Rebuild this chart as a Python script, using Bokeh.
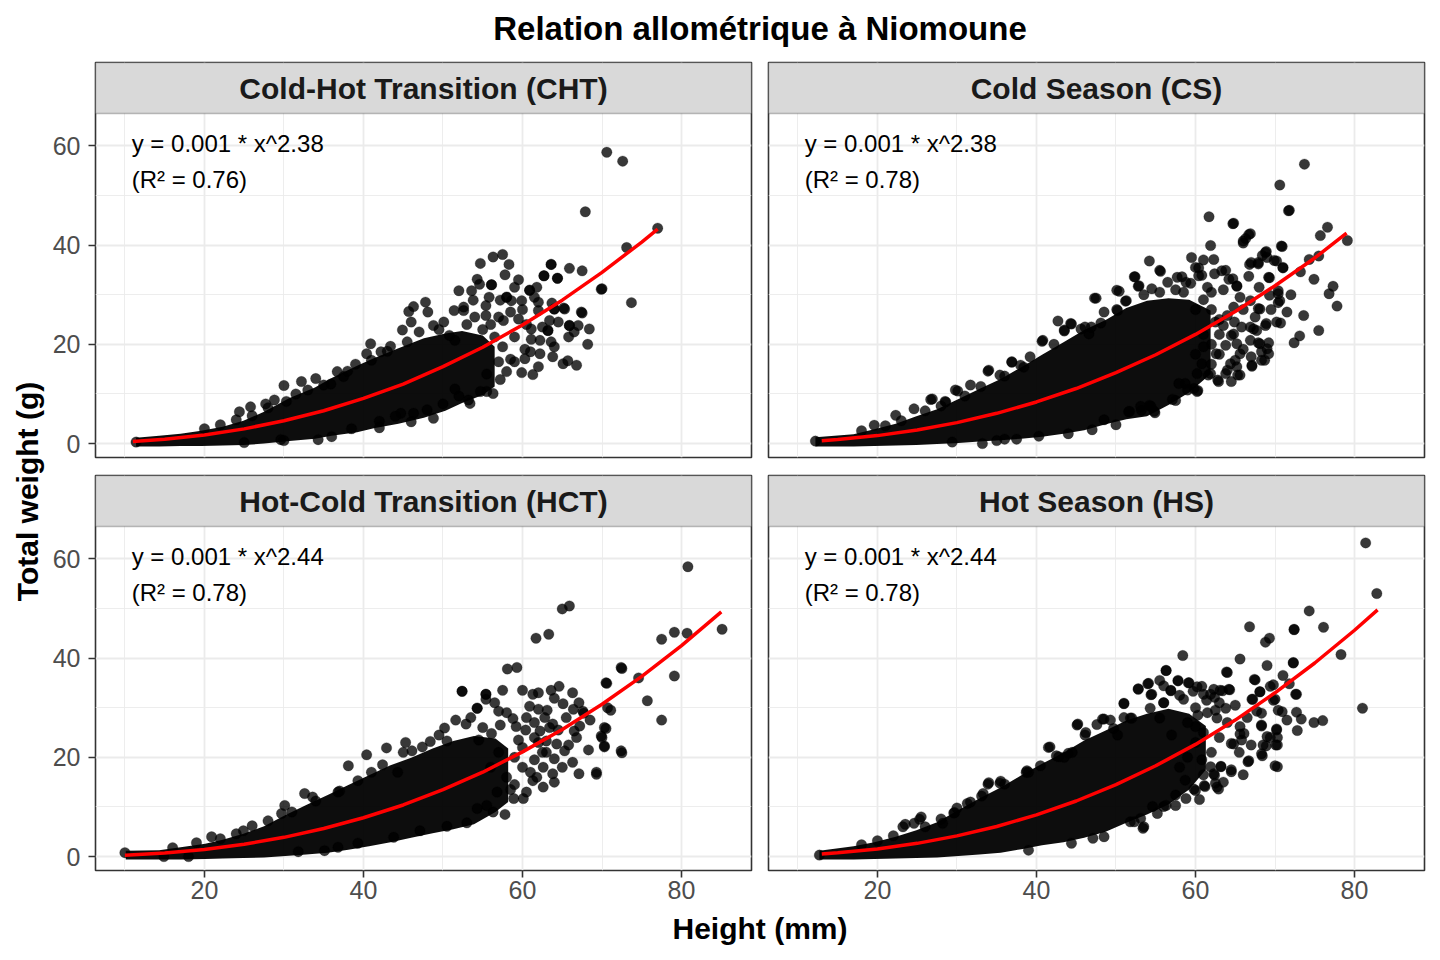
from bokeh.plotting import figure
from bokeh.models import Range1d, FixedTicker, BoxAnnotation, Label
from bokeh.layouts import row, column
from bokeh.embed import file_html
from bokeh.resources import INLINE

FONT = "Liberation Sans"
TITLE = "Relation allométrique à Niomoune"
X_LABEL = "Height (mm)"
Y_LABEL = "Total weight (g)"

panel_names = ["Cold-Hot Transition (CHT)", "Cold Season (CS)",
               "Hot-Cold Transition (HCT)", "Hot Season (HS)"]
eq_text = ["y = 0.001 * x^2.38", "y = 0.001 * x^2.38",
           "y = 0.001 * x^2.44", "y = 0.001 * x^2.44"]
r2_text = ["(R² = 0.76)", "(R² = 0.78)", "(R² = 0.78)", "(R² = 0.78)"]

X_TICKS = [20, 40, 60, 80]
X_MINOR = [10, 30, 50, 70]
Y_TICKS = [0, 20, 40, 60]
Y_MINOR = [10, 30, 50]
X_RANGE = (6.3, 88.8)
Y_RANGE = (-2.8, 66.5)

# ---- fitted curves ----
cht_curve_x = [11, 15, 20, 25, 30, 35, 40, 45, 50, 55, 60, 65, 70, 75, 77]
cht_curve_y = [0.42, 0.88, 1.75, 2.97, 4.59, 6.62, 9.10, 12.0, 15.5, 19.4, 23.9, 28.9, 34.5, 40.6, 43.2]
cs_curve_x = [13, 15, 20, 25, 30, 35, 40, 45, 50, 55, 60, 65, 70, 75, 79]
cs_curve_y = [0.58, 0.81, 1.61, 2.74, 4.23, 6.10, 8.39, 11.1, 14.3, 17.9, 22.0, 26.6, 31.8, 37.4, 42.4]
hct_curve_x = [10, 15, 20, 25, 30, 35, 40, 45, 50, 55, 60, 65, 70, 75, 80, 85]
hct_curve_y = [0.27, 0.72, 1.44, 2.49, 3.88, 5.66, 7.83, 10.4, 13.5, 17.0, 21.1, 25.6, 30.7, 36.3, 42.5, 49.3]
hs_curve_x = [13, 15, 20, 25, 30, 35, 40, 45, 50, 55, 60, 65, 70, 75, 80, 82.9]
hs_curve_y = [0.54, 0.77, 1.55, 2.67, 4.17, 6.07, 8.41, 11.2, 14.5, 18.3, 22.6, 27.5, 33.0, 39.0, 45.6, 49.7]

# ---- dense cores of the point clouds (visual lower / upper envelope) ----
cht_core_x = [11.4, 14.3, 17.0, 19.6, 22.3, 24.9, 27.5, 30.7, 33.9, 36.0, 39.2, 41.3, 44.4, 47.6, 50.3, 52.4, 55.0, 56.5]
cht_core_lo = [-0.6, -0.6, -0.5, -0.5, -0.4, -0.3, 0.0, 0.5, 1.0, 1.6, 2.3, 3.1, 4.0, 5.2, 6.6, 8.2, 9.8, 11.5]
cht_core_hi = [1.2, 1.6, 2.0, 2.6, 3.4, 4.6, 6.4, 9.2, 11.3, 13.2, 15.7, 17.2, 19.2, 21.2, 22.2, 22.7, 21.8, 19.5]

cs_core_x = [12.2, 17.0, 19.6, 22.3, 24.9, 27.5, 30.2, 32.8, 35.5, 38.1, 40.7, 43.4, 46.0, 48.7, 51.3, 53.9, 56.6, 59.2, 61.9]
cs_core_lo = [-0.6, -0.6, -0.5, -0.4, -0.3, -0.1, 0.1, 0.4, 0.7, 1.0, 1.4, 2.0, 2.7, 3.9, 4.9, 5.5, 7.8, 10.3, 14.0]
cs_core_hi = [1.3, 1.9, 2.9, 4.0, 5.5, 6.9, 9.0, 11.0, 13.0, 15.4, 17.9, 20.4, 22.9, 24.9, 27.3, 28.8, 29.3, 29.0, 26.8]

hct_core_x = [10.1, 14.3, 17.0, 20.1, 22.3, 24.9, 27.5, 30.2, 32.8, 35.5, 38.1, 40.7, 43.4, 46.0, 48.7, 51.3, 53.9, 56.6, 58.2]
hct_core_lo = [-0.6, -0.6, -0.6, -0.5, -0.4, -0.3, -0.2, 0.1, 0.4, 0.8, 1.4, 2.1, 2.9, 3.8, 4.7, 5.5, 6.5, 9.0, 11.0]
hct_core_hi = [1.2, 1.3, 1.9, 2.6, 3.4, 4.6, 6.1, 8.4, 10.4, 12.4, 14.4, 16.4, 18.4, 19.9, 21.8, 23.3, 24.3, 23.8, 21.8]

hs_core_x = [12.7, 17.0, 19.6, 22.3, 24.9, 27.5, 30.2, 32.8, 35.5, 38.1, 40.7, 43.4, 46.0, 48.7, 51.3, 53.9, 56.6, 59.2, 61.3]
hs_core_lo = [-0.6, -0.6, -0.5, -0.4, -0.3, -0.2, 0.1, 0.4, 0.8, 1.5, 2.3, 2.9, 3.8, 5.0, 6.8, 8.5, 10.5, 13.5, 17.5]
hs_core_hi = [1.2, 2.1, 2.9, 4.0, 5.3, 6.9, 9.4, 11.7, 13.9, 16.4, 18.7, 20.9, 23.4, 25.4, 27.4, 28.8, 29.8, 28.8, 26.3]

# ---- individual points outside the dense cores (height mm, weight g) ----
cht_pts = [
    (11.4, 0.3), (70.6, 58.7), (72.6, 56.9), (67.9, 46.7), (77.0, 43.4), (73.1, 39.5), (73.7, 28.4), (70.0, 31.2),
    (57.5, 38.1), (56.3, 37.6), (54.7, 36.3), (58.3, 36.1), (63.6, 36.1), (65.9, 35.3), (67.5, 34.8), (62.7, 33.8),
    (64.4, 33.3), (54.3, 33.1), (54.6, 32.1), (56.1, 32.0), (52.0, 30.8), (53.6, 30.8), (60.9, 30.9), (58.0, 29.5),
    (58.6, 28.8), (59.9, 28.8), (62.0, 28.5), (63.7, 28.3), (65.2, 27.3), (67.5, 26.3), (64.0, 27.1), (55.4, 27.8),
    (52.6, 27.5), (51.4, 26.8), (53.8, 28.9), (46.3, 27.6), (45.7, 26.6), (47.8, 28.5), (48.1, 26.5), (57.2, 28.9),
    (57.6, 24.8), (59.5, 25.1), (63.4, 24.8), (65.9, 23.8), (67.0, 23.8), (68.4, 23.1), (65.8, 21.5), (68.2, 20.0),
    (61.1, 23.1), (63.2, 22.8), (62.2, 20.8), (63.6, 20.5), (64.0, 19.5), (62.2, 18.1), (63.8, 17.5), (60.3, 17.1),
    (65.1, 16.1), (65.7, 16.7), (66.8, 15.8), (59.9, 14.3), (61.3, 13.9), (57.2, 12.9), (56.3, 10.1), (55.5, 10.5),
    (54.7, 10.5), (53.2, 8.8), (52.0, 9.6), (53.4, 8.1), (48.8, 5.1), (48.0, 6.8), (46.3, 6.1), (44.7, 6.1),
    (34.3, 0.8), (29.6, 0.8), (30.0, 11.7), (32.2, 12.5), (34.0, 13.1), (27.7, 8.0), (28.8, 8.8), (30.3, 8.5),
    (36.7, 14.5), (35.9, 12.0), (39.0, 16.0), (40.4, 18.1), (40.9, 20.1), (42.2, 18.5), (43.4, 19.6), (44.9, 22.9),
    (48.8, 23.8), (50.1, 24.5), (51.5, 20.8), (52.6, 26.8), (54.0, 25.5), (55.4, 25.8), (56.1, 32.0), (58.0, 29.5),
    (60.9, 30.9), (62.0, 26.8), (62.7, 33.8), (63.6, 36.1), (64.4, 33.3), (69.9, 31.1), (64.0, 27.1), (65.3, 27.1),
    (67.4, 26.5), (65.9, 23.8), (63.2, 22.8), (61.1, 21.0), (60.3, 19.0), (24.4, 6.4), (25.8, 7.4), (33.0, 10.8),
    (37.5, 13.5), (41.0, 16.8), (45.5, 20.5), (47.0, 22.5), (49.5, 23.0), (53.0, 24.0), (55.0, 23.0), (56.5, 21.5),
    (57.5, 19.5), (58.5, 17.0), (58.0, 14.5), (57.0, 16.5), (59.0, 21.5), (56.0, 24.0), (50.8, 21.8), (46.0, 24.5),
    (42.0, 4.5), (38.5, 3.0), (44.0, 5.5), (50.0, 8.0), (51.5, 11.0), (55.5, 14.0), (20.0, 3.0), (22.0, 3.8),
    (24.0, 4.8), (26.0, 5.6), (28.0, 7.2), (25.0, 0.2), (30.0, 0.6), (36.0, 1.4), (42.0, 3.2), (46.0, 4.4),
    (31.5, 10.0), (35.0, 11.8), (38.0, 14.6), (43.0, 18.6), (58.5, 26.5), (60.0, 27.0), (61.5, 29.5), (59.0, 31.5),
    (60.5, 24.0), (62.5, 23.5), (64.5, 24.5), (66.5, 22.5), (61.0, 18.5), (59.0, 16.5), (62.0, 15.5), (57.0, 25.5),
    (55.8, 29.5), (57.8, 34.0), (59.5, 33.0), (61.8, 31.5),
]
cs_pts = [
    (12.2, 0.5), (73.7, 56.3), (70.6, 52.1), (71.8, 47.0), (61.7, 45.7), (64.8, 44.4), (76.6, 43.6), (75.7, 41.9),
    (79.1, 40.9), (66.9, 42.3), (66.3, 41.3), (66.0, 40.4), (61.9, 39.9), (70.9, 39.7), (68.9, 38.7), (68.4, 37.9),
    (67.9, 36.2), (66.8, 36.1), (69.9, 36.9), (71.0, 35.4), (74.3, 37.1), (75.5, 37.8), (73.2, 34.6), (74.9, 33.1),
    (77.3, 31.7), (76.8, 30.2), (77.8, 27.7), (73.6, 25.8), (70.7, 24.3), (75.5, 22.8), (73.1, 21.7), (72.4, 20.3),
    (70.4, 28.4), (70.4, 30.2), (69.3, 29.9), (68.0, 31.5), (69.3, 33.4), (66.7, 33.7), (65.2, 31.7), (67.9, 27.2),
    (68.9, 24.2), (67.9, 20.3), (69.2, 20.3), (68.3, 18.5), (68.7, 16.8), (67.1, 15.6), (64.9, 24.5), (65.8, 23.5),
    (67.7, 22.8), (64.5, 21.8), (63.8, 19.8), (65.0, 16.8), (64.0, 14.8), (65.3, 13.8), (62.8, 12.8), (61.6, 13.8),
    (60.8, 16.1), (62.6, 18.1), (60.3, 10.7), (58.7, 12.1), (57.5, 8.7), (54.2, 7.7), (54.9, 6.2), (53.2, 6.7),
    (51.6, 6.4), (48.5, 4.8), (40.3, 1.5), (33.2, 0.0), (29.4, 0.3), (54.2, 36.8), (55.5, 34.9), (52.4, 33.6),
    (58.3, 33.6), (59.4, 32.3), (60.4, 35.4), (62.4, 34.2), (63.8, 34.9), (64.7, 33.2), (60.8, 33.9), (52.8, 31.7),
    (54.5, 31.2), (50.1, 30.9), (51.2, 28.7), (50.1, 27.0), (47.3, 29.3), (42.7, 24.7), (44.3, 24.2), (43.5, 22.7),
    (40.7, 20.6), (42.2, 20.0), (46.1, 23.5), (46.6, 22.1), (36.9, 16.4), (33.9, 14.6), (38.4, 15.4), (30.1, 10.6),
    (26.7, 8.9), (28.6, 8.4), (24.6, 7.0), (22.3, 5.7), (19.6, 3.7), (26.9, 9.0), (28.5, 8.5), (29.8, 10.8),
    (31.7, 11.8), (34.0, 14.8), (35.4, 13.8), (36.9, 16.5), (39.2, 17.5), (40.8, 20.8), (43.5, 22.9), (44.4, 24.1),
    (45.6, 23.1), (46.9, 23.5), (48.1, 24.3), (47.5, 29.3), (50.2, 26.8), (50.4, 30.7), (51.3, 28.8), (52.3, 33.6),
    (52.9, 31.8), (55.6, 34.7), (57.7, 33.5), (58.8, 32.5), (60.0, 35.5), (60.4, 33.8), (62.3, 37.1), (63.3, 34.8),
    (64.2, 33.1), (64.7, 44.3), (65.2, 31.8), (66.0, 40.8), (66.7, 42.1), (67.0, 36.5), (67.9, 36.5), (68.8, 38.5),
    (69.0, 37.5), (69.2, 33.5), (70.2, 36.8), (70.8, 39.8), (71.0, 35.5), (71.7, 46.9), (70.4, 30.8), (70.6, 28.8),
    (70.2, 24.5), (68.1, 27.1), (66.9, 28.8), (65.6, 29.5), (64.8, 27.5), (64.0, 25.8), (63.5, 23.8), (64.8, 22.1),
    (65.2, 20.1), (66.9, 20.8), (68.1, 20.1), (69.0, 19.1), (69.2, 18.1), (68.3, 16.8), (67.3, 23.1), (68.8, 23.8),
    (66.9, 23.5), (65.6, 18.1), (64.4, 16.1), (63.8, 14.1), (62.9, 12.5), (65.2, 15.5), (67.1, 15.8), (65.6, 13.8),
    (61.9, 14.1), (60.2, 14.1), (59.8, 11.1), (60.2, 10.5), (59.0, 10.8), (57.9, 12.1), (57.1, 8.9), (54.8, 6.5),
    (54.4, 7.5), (53.1, 7.5), (51.7, 6.5), (37.5, 0.9), (36.0, 0.9), (60.0, 18.0), (61.0, 22.0), (62.0, 20.0),
    (63.0, 25.0), (60.0, 27.0), (61.0, 29.0), (62.0, 16.0), (63.0, 22.0), (62.0, 27.0), (61.5, 31.5), (57.5, 31.0),
    (55.5, 30.5), (53.5, 30.0), (48.5, 26.5), (62.5, 24.5), (18.0, 2.6), (21.0, 3.6), (23.0, 4.6), (26.0, 6.6),
    (28.0, 7.6), (31.0, 9.6), (33.0, 11.5), (36.0, 13.6), (38.0, 15.8), (35.0, 0.6), (44.0, 2.0), (47.0, 2.8),
    (50.0, 3.8), (62.0, 30.5), (63.5, 31.0), (66.0, 27.0), (67.5, 25.5), (69.5, 27.0), (66.0, 19.0), (67.0, 17.5),
    (63.0, 18.0), (61.0, 19.5), (64.5, 12.5), (58.5, 30.5), (56.5, 32.5), (59.5, 37.5), (61.0, 37.0), (72.0, 30.0),
    (71.5, 26.5),
]
hct_pts = [
    (10.0, 0.8), (80.8, 58.4), (65.0, 49.9), (65.9, 50.5), (61.7, 44.0), (63.3, 44.8), (85.1, 45.8), (77.5, 43.8),
    (79.1, 45.2), (80.7, 45.0), (79.1, 36.4), (72.5, 37.9), (74.6, 36.0), (70.6, 34.9), (75.7, 31.4), (77.5, 27.5),
    (71.1, 29.5), (70.5, 25.8), (70.0, 24.0), (70.3, 22.1), (72.5, 20.9), (69.3, 16.6), (58.1, 37.8), (59.3, 38.1),
    (52.4, 33.3), (55.4, 32.7), (55.4, 31.7), (54.3, 29.9), (57.0, 29.3), (58.0, 29.0), (58.8, 27.8), (60.4, 25.5),
    (61.3, 32.7), (62.0, 33.0), (60.9, 30.3), (62.0, 29.7), (63.1, 29.5), (63.6, 33.5), (64.6, 34.3), (64.0, 31.9),
    (65.1, 30.8), (66.3, 33.0), (67.1, 31.0), (66.4, 29.7), (67.6, 29.3), (62.8, 28.0), (63.8, 26.7), (63.4, 26.0),
    (62.2, 25.3), (61.5, 24.0), (63.0, 23.3), (64.3, 22.7), (65.3, 21.3), (66.5, 25.3), (67.2, 26.3), (66.8, 24.0),
    (66.3, 19.0), (64.0, 19.7), (62.6, 18.0), (63.8, 16.7), (64.0, 15.0), (65.0, 18.0), (67.1, 16.7), (69.3, 17.0),
    (69.9, 24.3), (70.3, 26.0), (70.3, 22.3), (70.5, 35.0), (70.7, 30.0), (72.4, 38.1), (72.4, 21.3), (61.3, 15.3),
    (62.6, 14.0), (60.1, 11.7), (58.9, 11.7), (57.8, 8.5), (56.3, 9.0), (55.5, 10.3), (54.3, 9.7), (53.0, 6.8),
    (50.5, 6.1), (47.1, 5.2), (43.8, 3.9), (39.3, 2.7), (36.8, 1.9), (35.1, 1.2), (31.8, 1.0), (32.6, 12.7),
    (30.1, 10.3), (29.7, 8.7), (33.6, 12.0), (36.8, 13.0), (38.1, 18.3), (39.3, 15.3), (40.4, 20.5), (42.9, 21.9),
    (42.4, 18.5), (44.3, 17.0), (45.3, 23.0), (46.1, 21.3), (47.4, 22.1), (48.4, 23.2), (50.2, 25.9), (50.5, 23.3),
    (51.6, 27.5), (52.4, 33.3), (52.9, 26.7), (54.3, 29.9), (55.4, 32.7), (24.9, 5.2), (20.9, 4.0), (18.0, 0.0),
    (14.9, 0.0), (56.1, 24.8), (57.2, 26.5), (54.5, 23.5), (59.2, 26.2), (67.7, 28.9), (59.0, 20.0), (60.0, 18.0),
    (61.0, 17.0), (60.0, 22.0), (62.0, 23.0), (58.0, 16.0), (61.5, 19.5), (63.0, 21.0), (56.0, 18.0), (57.0, 21.0),
    (59.5, 23.5), (58.5, 13.5), (60.5, 13.0), (55.0, 26.0), (53.5, 28.0), (49.5, 24.5), (45.0, 21.0), (41.0, 17.0),
    (16.0, 1.8), (19.0, 2.8), (22.0, 3.6), (24.0, 4.6), (26.0, 6.2), (28.0, 7.2), (31.0, 9.0), (34.0, 11.2),
    (37.0, 13.2), (60.5, 28.0), (61.5, 27.0), (64.5, 25.5), (65.5, 28.0), (68.5, 27.5), (60.0, 33.5), (57.5, 33.5),
    (56.5, 31.0), (62.5, 21.0), (65.8, 22.5), (61.8, 16.0), (59.0, 14.5), (56.8, 13.0), (68.3, 21.5),
]
hs_pts = [
    (12.7, 0.3), (81.4, 63.2), (82.8, 53.0), (74.3, 49.5), (66.8, 46.3), (72.4, 45.8), (76.1, 46.2), (69.3, 44.0),
    (68.8, 43.2), (78.3, 40.7), (58.4, 40.5), (65.6, 39.8), (72.3, 39.1), (81.0, 29.9), (64.0, 37.1), (56.3, 37.5),
    (67.5, 35.6), (71.8, 34.8), (72.6, 32.7), (69.8, 34.6), (68.1, 33.2), (67.2, 31.7), (69.8, 31.5), (68.3, 28.9),
    (70.9, 29.2), (72.7, 29.1), (73.3, 27.7), (74.9, 27.0), (76.0, 27.4), (72.8, 25.4), (68.3, 26.3), (70.2, 25.5),
    (69.0, 24.2), (70.3, 24.0), (68.9, 22.3), (70.3, 22.5), (68.4, 20.3), (66.6, 19.1), (70.3, 18.1), (66.1, 24.8),
    (65.8, 23.5), (64.5, 22.8), (63.2, 18.1), (64.5, 17.1), (62.4, 16.4), (62.5, 14.8), (62.9, 13.6), (61.2, 14.1),
    (59.8, 13.6), (58.7, 15.4), (60.8, 19.5), (61.9, 18.1), (57.5, 12.4), (56.0, 10.1), (54.6, 10.1), (53.4, 5.7),
    (51.8, 7.0), (48.5, 4.0), (47.1, 3.7), (52.8, 33.7), (54.1, 34.9), (56.0, 34.4), (57.8, 35.4), (59.1, 35.0),
    (60.2, 34.2), (62.3, 33.7), (63.4, 33.4), (64.3, 33.6), (54.4, 32.6), (56.9, 33.4), (51.0, 30.9), (56.0, 31.0),
    (58.5, 31.7), (61.0, 32.7), (61.4, 31.5), (62.4, 32.1), (63.8, 29.9), (54.3, 29.9), (51.8, 27.9), (51.0, 28.0),
    (55.5, 27.9), (60.3, 28.5), (62.7, 27.9), (65.6, 26.2), (60.0, 26.2), (45.1, 26.5), (47.6, 26.6), (48.5, 27.7),
    (49.7, 25.8), (46.1, 24.5), (50.2, 24.5), (41.5, 22.0), (42.8, 20.1), (44.0, 20.8), (40.5, 18.3), (38.7, 17.0),
    (33.9, 14.6), (35.4, 14.8), (33.1, 12.2), (31.3, 10.7), (29.7, 8.9), (28.2, 6.7), (25.3, 7.5), (24.6, 6.7),
    (23.2, 6.0), (53.1, 7.7), (25.5, 8.0), (23.5, 6.5), (29.6, 8.8), (31.7, 11.0), (33.3, 12.7), (34.0, 14.9),
    (35.5, 15.2), (38.8, 17.3), (41.7, 22.1), (42.5, 20.3), (43.5, 20.0), (44.5, 21.0), (45.2, 26.7), (46.2, 25.0),
    (48.3, 27.7), (49.3, 27.5), (51.0, 30.8), (52.0, 27.9), (52.8, 33.8), (54.0, 34.8), (54.5, 32.7), (56.0, 31.0),
    (56.3, 37.5), (56.9, 33.5), (57.8, 35.5), (59.2, 35.0), (59.7, 33.3), (60.8, 34.3), (61.9, 32.7), (63.1, 33.5),
    (64.2, 33.7), (63.9, 37.2), (67.4, 35.7), (67.1, 31.7), (68.1, 33.2), (69.4, 34.3), (70.0, 31.7), (67.7, 29.3),
    (70.4, 29.5), (72.3, 39.0), (72.4, 45.7), (72.7, 32.7), (68.3, 26.5), (70.2, 25.7), (69.4, 24.0), (68.5, 22.5),
    (70.1, 22.5), (70.0, 18.3), (68.3, 20.7), (66.7, 19.3), (65.6, 24.7), (64.8, 22.7), (64.5, 17.5), (63.2, 18.2),
    (62.3, 16.7), (62.7, 14.0), (61.1, 14.3), (60.0, 13.3), (58.8, 11.7), (57.5, 10.3), (56.3, 10.3), (55.2, 8.7),
    (53.5, 6.0), (52.3, 7.0), (44.4, 2.7), (39.0, 1.3), (59.0, 20.0), (60.0, 23.0), (61.0, 25.0), (62.0, 21.0),
    (63.0, 24.0), (58.0, 18.0), (61.0, 16.5), (60.0, 30.0), (59.0, 27.0), (57.0, 24.5), (62.5, 29.5), (64.0, 27.0),
    (18.0, 2.4), (20.0, 3.2), (22.0, 4.2), (26.0, 6.0), (28.0, 7.6), (30.0, 9.8), (36.0, 14.6), (39.0, 17.0),
    (65.0, 30.5), (66.5, 28.0), (63.0, 31.0), (61.5, 29.0), (58.0, 32.5), (55.5, 35.5), (65.5, 21.0), (67.0, 22.5),
    (66.0, 16.5), (63.5, 15.0), (60.5, 11.5), (71.5, 27.5), (71.0, 36.5), (69.0, 38.5),
]

panels = [
    (cht_pts, cht_core_x, cht_core_lo, cht_core_hi, cht_curve_x, cht_curve_y),
    (cs_pts, cs_core_x, cs_core_lo, cs_core_hi, cs_curve_x, cs_curve_y),
    (hct_pts, hct_core_x, hct_core_lo, hct_core_hi, hct_curve_x, hct_curve_y),
    (hs_pts, hs_core_x, hs_core_lo, hs_core_hi, hs_curve_x, hs_curve_y),
]

# ---- layout sizes (px) ----
FRAME_W, FRAME_H = 656, 395
PANEL_H = 344
STRIP_H = FRAME_H - PANEL_H
units_per_px = (Y_RANGE[1] - Y_RANGE[0]) / PANEL_H
Y_TOP = Y_RANGE[1] + STRIP_H * units_per_px

GRID = "#EBEBEB"
DARK = "#333333"


def make_panel(i, left, bottom):
    pts, cx, clo, chi, kx, ky = panels[i]
    mbl = 47 if left else 9
    mbr = 8
    mbt = 4 if not bottom else 9
    mbb = 9 if not bottom else 41
    p = figure(width=mbl + FRAME_W + mbr, height=mbt + FRAME_H + mbb,
               x_range=Range1d(*X_RANGE), y_range=Range1d(Y_RANGE[0], Y_TOP),
               x_axis_location="below" if bottom else None,
               y_axis_location="left" if left else None,
               output_backend="svg", toolbar_location=None,
               min_border_left=mbl, min_border_right=mbr,
               min_border_top=mbt, min_border_bottom=mbb)
    p.background_fill_color = "white"
    p.border_fill_color = "white"
    p.outline_line_color = DARK
    p.outline_line_width = 1.6

    for g, t, m in ((p.xgrid, X_TICKS, X_MINOR), (p.ygrid, Y_TICKS, Y_MINOR)):
        g.ticker = FixedTicker(ticks=t, minor_ticks=m)
        g.grid_line_color = GRID
        g.grid_line_width = 1.8
        g.minor_grid_line_color = GRID
        g.minor_grid_line_width = 0.9

    for ax, t, sd in ((p.xaxis, X_TICKS, 3), (p.yaxis, Y_TICKS, 8)):
        ax.ticker = FixedTicker(ticks=t)
        ax.axis_line_color = None
        ax.major_tick_line_color = DARK
        ax.major_tick_line_width = 1.6
        ax.major_tick_out = 7
        ax.major_tick_in = 0
        ax.minor_tick_out = 0
        ax.minor_tick_in = 0
        ax.major_label_text_font = FONT
        ax.major_label_text_font_size = "25px"
        ax.major_label_text_color = "#4D4D4D"
        ax.major_label_standoff = sd

    p.varea(x=cx, y1=clo, y2=chi, fill_color="black", fill_alpha=0.95)
    xs, ys = zip(*pts)
    p.scatter(x=list(xs), y=list(ys), size=10.5, fill_color="black", fill_alpha=0.78,
              line_color="black", line_alpha=0.35, line_width=0.6)
    p.line(x=kx, y=ky, line_color="#FF0000", line_width=3.5)

    strip = BoxAnnotation(left=X_RANGE[0], right=X_RANGE[1], bottom=Y_RANGE[1], top=Y_TOP,
                          fill_color="#D9D9D9", fill_alpha=1.0,
                          line_color=DARK, line_width=1.6)
    p.add_layout(strip)
    p.add_layout(Label(x=(X_RANGE[0] + X_RANGE[1]) / 2, y=(Y_RANGE[1] + Y_TOP) / 2,
                       text=panel_names[i], text_align="center", text_baseline="middle",
                       text_font=FONT, text_font_style="bold", text_font_size="30px",
                       text_color="#1A1A1A"))
    p.add_layout(Label(x=10.85, y=60.5, text=eq_text[i], text_align="left",
                       text_baseline="middle", text_font=FONT, text_font_size="24px",
                       text_color="black"))
    p.add_layout(Label(x=10.85, y=53.3, text=r2_text[i], text_align="left",
                       text_baseline="middle", text_font=FONT, text_font_size="24px",
                       text_color="black"))
    return p


def text_fig(w, h, x, y, txt, size, angle=0.0):
    f = figure(width=w, height=h, x_range=Range1d(0, w), y_range=Range1d(0, h),
               x_axis_location=None, y_axis_location=None,
               output_backend="svg", toolbar_location=None, min_border=0)
    f.xgrid.visible = False
    f.ygrid.visible = False
    f.outline_line_color = None
    f.background_fill_color = "white"
    f.border_fill_color = "white"
    f.add_layout(Label(x=x, y=y, text=txt, angle=angle, text_align="center",
                       text_baseline="middle", text_font=FONT, text_font_style="bold",
                       text_font_size=size, text_color="black"))
    return f


tl = make_panel(0, True, False)
tr = make_panel(1, False, False)
bl = make_panel(2, True, True)
br = make_panel(3, False, True)

YLAB_W = 48
TOTAL_W = YLAB_W + tl.width + tr.width
ylab_h = tl.height + bl.height
title_fig = text_fig(TOTAL_W, 58, 759.5, 30, TITLE, "33px")
ylab_fig = text_fig(YLAB_W, ylab_h, 27, ylab_h - 433, Y_LABEL, "30px", angle=1.5707963)
xlab_fig = text_fig(TOTAL_W, 44, 759.5, 27, X_LABEL, "30px")

layout = column(title_fig,
                row(ylab_fig, column(row(tl, tr), row(bl, br))),
                xlab_fig)

open("out.html", "w").write(file_html(layout, INLINE))
